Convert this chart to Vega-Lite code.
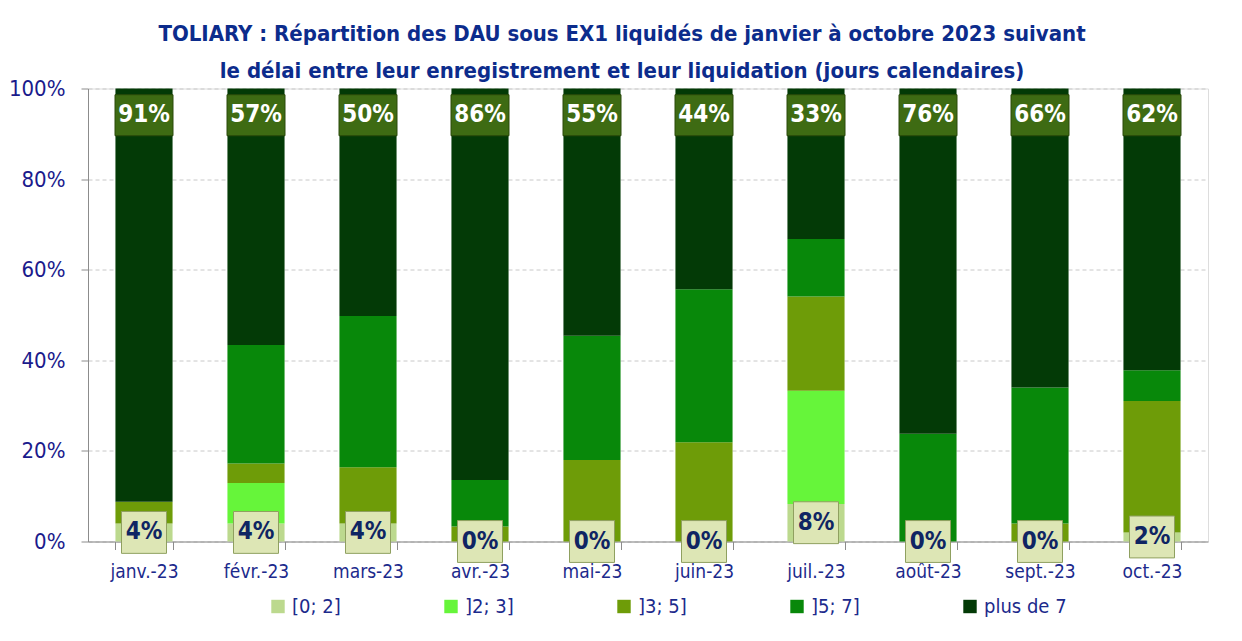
{
  "$schema": "https://vega.github.io/schema/vega-lite/v6.json",
  "width": 1120,
  "height": 453,
  "autosize": "none",
  "padding": {"left": 88, "top": 88.5, "right": 34, "bottom": 99.5},
  "background": "white",
  "title": {
    "text": ["TOLIARY : Répartition des DAU sous EX1 liquidés de janvier à octobre 2023 suivant", "le délai entre leur enregistrement et leur liquidation (jours calendaires)"],
    "font": "DejaVu Sans Condensed, sans-serif",
    "fontSize": 22,
    "fontWeight": "bold",
    "color": "#0c2c8c",
    "lineHeight": 37,
    "anchor": "middle",
    "frame": "group",
    "offset": -5,
    "dx": -26
  },
  "datasets": {
    "d": [
      {"m": "janv.-23", "cat": "[0; 2]", "k": 1, "v": 0.04},
      {"m": "janv.-23", "cat": "]2; 3]", "k": 2, "v": 0},
      {"m": "janv.-23", "cat": "]3; 5]", "k": 3, "v": 0.048},
      {"m": "janv.-23", "cat": "]5; 7]", "k": 4, "v": 0},
      {"m": "janv.-23", "cat": "plus de 7", "k": 5, "v": 0.912},
      {"m": "févr.-23", "cat": "[0; 2]", "k": 1, "v": 0.04},
      {"m": "févr.-23", "cat": "]2; 3]", "k": 2, "v": 0.089},
      {"m": "févr.-23", "cat": "]3; 5]", "k": 3, "v": 0.043},
      {"m": "févr.-23", "cat": "]5; 7]", "k": 4, "v": 0.262},
      {"m": "févr.-23", "cat": "plus de 7", "k": 5, "v": 0.566},
      {"m": "mars-23", "cat": "[0; 2]", "k": 1, "v": 0.04},
      {"m": "mars-23", "cat": "]2; 3]", "k": 2, "v": 0},
      {"m": "mars-23", "cat": "]3; 5]", "k": 3, "v": 0.124},
      {"m": "mars-23", "cat": "]5; 7]", "k": 4, "v": 0.334},
      {"m": "mars-23", "cat": "plus de 7", "k": 5, "v": 0.502},
      {"m": "avr.-23", "cat": "[0; 2]", "k": 1, "v": 0},
      {"m": "avr.-23", "cat": "]2; 3]", "k": 2, "v": 0},
      {"m": "avr.-23", "cat": "]3; 5]", "k": 3, "v": 0.033},
      {"m": "avr.-23", "cat": "]5; 7]", "k": 4, "v": 0.103},
      {"m": "avr.-23", "cat": "plus de 7", "k": 5, "v": 0.864},
      {"m": "mai-23", "cat": "[0; 2]", "k": 1, "v": 0},
      {"m": "mai-23", "cat": "]2; 3]", "k": 2, "v": 0},
      {"m": "mai-23", "cat": "]3; 5]", "k": 3, "v": 0.18},
      {"m": "mai-23", "cat": "]5; 7]", "k": 4, "v": 0.274},
      {"m": "mai-23", "cat": "plus de 7", "k": 5, "v": 0.546},
      {"m": "juin-23", "cat": "[0; 2]", "k": 1, "v": 0},
      {"m": "juin-23", "cat": "]2; 3]", "k": 2, "v": 0},
      {"m": "juin-23", "cat": "]3; 5]", "k": 3, "v": 0.219},
      {"m": "juin-23", "cat": "]5; 7]", "k": 4, "v": 0.338},
      {"m": "juin-23", "cat": "plus de 7", "k": 5, "v": 0.443},
      {"m": "juil.-23", "cat": "[0; 2]", "k": 1, "v": 0.083},
      {"m": "juil.-23", "cat": "]2; 3]", "k": 2, "v": 0.25},
      {"m": "juil.-23", "cat": "]3; 5]", "k": 3, "v": 0.208},
      {"m": "juil.-23", "cat": "]5; 7]", "k": 4, "v": 0.127},
      {"m": "juil.-23", "cat": "plus de 7", "k": 5, "v": 0.332},
      {"m": "août-23", "cat": "[0; 2]", "k": 1, "v": 0},
      {"m": "août-23", "cat": "]2; 3]", "k": 2, "v": 0},
      {"m": "août-23", "cat": "]3; 5]", "k": 3, "v": 0},
      {"m": "août-23", "cat": "]5; 7]", "k": 4, "v": 0.238},
      {"m": "août-23", "cat": "plus de 7", "k": 5, "v": 0.762},
      {"m": "sept.-23", "cat": "[0; 2]", "k": 1, "v": 0},
      {"m": "sept.-23", "cat": "]2; 3]", "k": 2, "v": 0},
      {"m": "sept.-23", "cat": "]3; 5]", "k": 3, "v": 0.04},
      {"m": "sept.-23", "cat": "]5; 7]", "k": 4, "v": 0.30},
      {"m": "sept.-23", "cat": "plus de 7", "k": 5, "v": 0.66},
      {"m": "oct.-23", "cat": "[0; 2]", "k": 1, "v": 0.02},
      {"m": "oct.-23", "cat": "]2; 3]", "k": 2, "v": 0},
      {"m": "oct.-23", "cat": "]3; 5]", "k": 3, "v": 0.29},
      {"m": "oct.-23", "cat": "]5; 7]", "k": 4, "v": 0.068},
      {"m": "oct.-23", "cat": "plus de 7", "k": 5, "v": 0.622}
    ]
  },
  "data": {"name": "d"},
  "encoding": {
    "x": {
      "field": "m",
      "type": "nominal",
      "sort": null,
      "scale": {"paddingInner": 0.49, "paddingOuter": 0.245},
      "axis": {
        "title": null,
        "labelAngle": 0,
        "labelFont": "DejaVu Sans Condensed, sans-serif",
        "labelFontSize": 19,
        "labelColor": "#1c2a8c",
        "domainColor": "#8c8c8c",
        "tickColor": "#8c8c8c",
        "tickBand": "extent",
        "tickSize": 8,
        "labelPadding": 13,
        "grid": false
      }
    }
  },
  "layer": [
    {
      "mark": {"type": "bar"},
      "encoding": {
        "y": {
          "field": "v",
          "type": "quantitative",
          "stack": "zero",
          "scale": {"domain": [0, 1], "nice": false},
          "axis": {
            "title": null,
            "format": ".0%",
            "values": [0, 0.2, 0.4, 0.6, 0.8, 1],
            "labelFont": "DejaVu Sans Condensed, sans-serif",
            "labelFontSize": 22,
            "labelColor": "#1a1a8c",
            "gridDash": [4, 3],
            "gridColor": "#c8c8c8",
            "domainColor": "#8c8c8c",
            "tickColor": "#8c8c8c",
            "tickSize": 7,
            "labelPadding": 16
          }
        },
        "order": {"field": "k", "type": "quantitative"},
        "color": {
          "field": "cat",
          "type": "nominal",
          "scale": {
            "domain": ["[0; 2]", "]2; 3]", "]3; 5]", "]5; 7]", "plus de 7"],
            "range": ["#bcd98e", "#66f53a", "#6e9c08", "#08880a", "#033a06"]
          },
          "legend": {
            "title": null,
            "orient": "none",
            "legendX": 180,
            "legendY": 508,
            "direction": "horizontal",
            "gridAlign": "all",
            "columnPadding": 66,
            "symbolType": "square",
            "symbolSize": 180,
            "symbolStrokeWidth": 0,
            "labelFont": "DejaVu Sans Condensed, sans-serif",
            "labelFontSize": 20,
            "labelColor": "#1c2a8c",
            "labelOffset": 4
          }
        }
      }
    },
    {
      "transform": [{"filter": "datum.cat === '[0; 2]'"}],
      "mark": {"type": "point", "shape": "M-1,-0.93L1,-0.93L1,0.93L-1,0.93Z", "size": 2025, "filled": true, "fill": "#dde6b5", "stroke": "#8fa060", "strokeWidth": 1, "opacity": 1},
      "encoding": {
        "y": {"field": "v", "type": "quantitative", "stack": "zero", "bandPosition": 0.5}
      }
    },
    {
      "transform": [{"filter": "datum.cat === '[0; 2]'"}],
      "mark": {"type": "text", "font": "DejaVu Sans Condensed, sans-serif", "fontSize": 24, "fontWeight": "bold", "color": "#0f2563", "baseline": "middle", "align": "center"},
      "encoding": {
        "y": {"field": "v", "type": "quantitative", "stack": "zero", "bandPosition": 0.5},
        "text": {"field": "v", "type": "quantitative", "format": ".0%"}
      }
    },
    {
      "transform": [{"filter": "datum.cat === 'plus de 7'"}],
      "mark": {"type": "point", "shape": "M-1,-0.707L1,-0.707L1,0.707L-1,0.707Z", "size": 3364, "filled": true, "fill": "#3e6b13", "stroke": "#2a4a0a", "strokeWidth": 1, "opacity": 1},
      "encoding": {
        "y": {"datum": 0.941}
      }
    },
    {
      "transform": [{"filter": "datum.cat === 'plus de 7'"}],
      "mark": {"type": "text", "font": "DejaVu Sans Condensed, sans-serif", "fontSize": 24, "fontWeight": "bold", "color": "white", "baseline": "middle", "align": "center"},
      "encoding": {
        "y": {"datum": 0.941},
        "text": {"field": "v", "type": "quantitative", "format": ".0%"}
      }
    }
  ]
}
